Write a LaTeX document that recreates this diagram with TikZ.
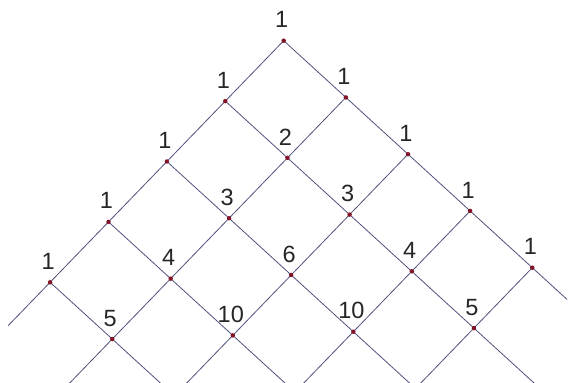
\documentclass[tikz,border=0pt]{standalone}
\usepackage{fontspec}
\setmainfont{Liberation Sans}
\usetikzlibrary{calc}
\definecolor{gridline}{RGB}{80,80,125}
\definecolor{dotred}{RGB}{130,20,40}
\begin{document}
\begin{tikzpicture}[x=1pt,y=1pt,
  gridl/.style={draw=gridline, line width=0.8pt},
  dotnode/.style={circle, fill=dotred, inner sep=0pt, minimum size=4.5pt},
  numlbl/.style={font=\fontsize{23.5}{23.5}\selectfont, inner sep=0pt, text=black!85}]
\useasboundingbox (0,0) rectangle (568,383);
\clip (0,0) rectangle (568,383);
\coordinate (T) at (283.7,342.3);
% lattice points
\foreach \i/\j in {0/0,1/0,0/1,2/0,1/1,0/2,3/0,2/1,1/2,0/3,4/0,3/1,2/2,1/3,0/4,4/1,3/2,2/3,1/4}{
  \coordinate (p-\i-\j) at ($(T)+\i*(-58.4,-60.4)+\j*(62.15,-56.75)$);
}
% lines going down-left
\foreach \j in {0,...,4}{
  \pgfmathsetmacro\len{\j==0 ? 4.72 : 6.5}
  \coordinate (ea-\j) at ($(p-0-\j)+\len*(-58.4,-60.4)$);
  \draw[gridl] (p-0-\j) -- (ea-\j);
}
% lines going down-right
\foreach \i in {0,...,4}{
  \pgfmathsetmacro\len{\i==0 ? 4.56 : 6.5}
  \coordinate (eb-\i) at ($(p-\i-0)+\len*(62.15,-56.75)$);
  \draw[gridl] (p-\i-0) -- (eb-\i);
}
% dots and numbers
\foreach \i/\j in {0/0,1/0,0/1,2/0,1/1,0/2,3/0,2/1,1/2,0/3,4/0,3/1,2/2,1/3,0/4,4/1,3/2,2/3,1/4}{
  \pgfmathtruncatemacro\val{factorial(\i+\j)/(factorial(\i)*factorial(\j))}
  \node[dotnode] (d-\i-\j) at (p-\i-\j) {};
  \node[numlbl] (l-\i-\j) at ($(p-\i-\j)+(-2,21)$) {\val};
}
\end{tikzpicture}
\end{document}
